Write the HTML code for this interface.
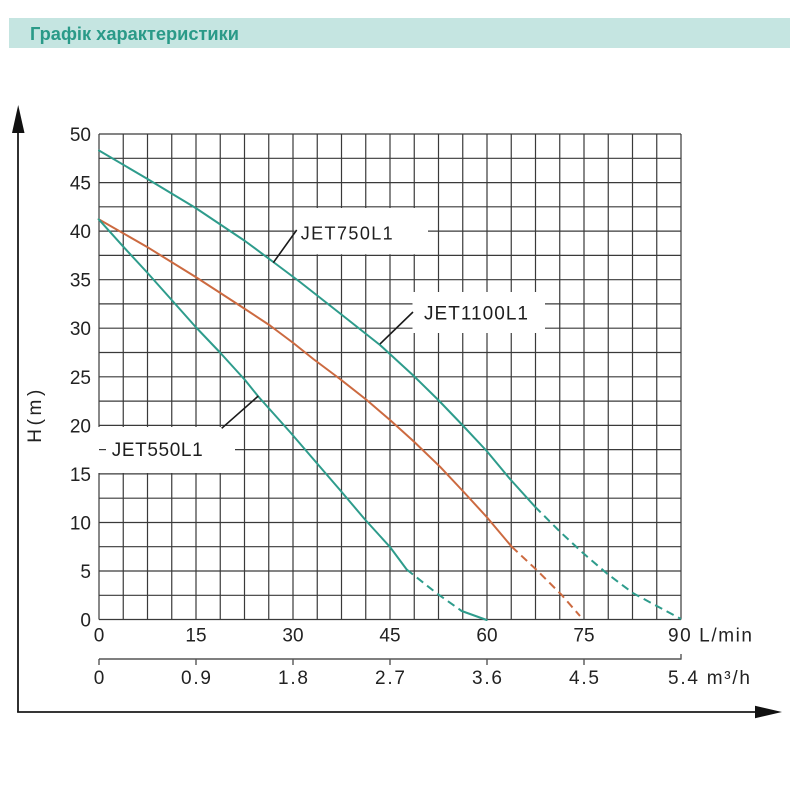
<!DOCTYPE html>
<html>
<head>
<meta charset="utf-8">
<style>
html,body{margin:0;padding:0;background:#fff;}
svg{display:block;}
text{font-family:"Liberation Sans",Arial,sans-serif;}
</style>
</head>
<body>
<svg width="800" height="800" viewBox="0 0 800 800" xmlns="http://www.w3.org/2000/svg">
<rect x="0" y="0" width="800" height="800" fill="#fff"/>
<rect x="9" y="18" width="781" height="30" fill="#c5e5e1"/>
<text x="30" y="40" font-size="18" font-weight="bold" fill="#2a9a88" textLength="209" lengthAdjust="spacingAndGlyphs">Графік характеристики</text>

<g stroke="#3a3a3a" stroke-width="1.2" fill="none">
<line x1="99" y1="134" x2="681" y2="134"/>
<line x1="99" y1="158.3" x2="681" y2="158.3"/>
<line x1="99" y1="182.6" x2="681" y2="182.6"/>
<line x1="99" y1="206.8" x2="681" y2="206.8"/>
<line x1="99" y1="231.1" x2="681" y2="231.1"/>
<line x1="99" y1="255.4" x2="681" y2="255.4"/>
<line x1="99" y1="279.7" x2="681" y2="279.7"/>
<line x1="99" y1="303.9" x2="681" y2="303.9"/>
<line x1="99" y1="328.2" x2="681" y2="328.2"/>
<line x1="99" y1="352.5" x2="681" y2="352.5"/>
<line x1="99" y1="376.8" x2="681" y2="376.8"/>
<line x1="99" y1="401.1" x2="681" y2="401.1"/>
<line x1="99" y1="425.4" x2="681" y2="425.4"/>
<line x1="99" y1="449.6" x2="681" y2="449.6"/>
<line x1="99" y1="473.9" x2="681" y2="473.9"/>
<line x1="99" y1="498.2" x2="681" y2="498.2"/>
<line x1="99" y1="522.5" x2="681" y2="522.5"/>
<line x1="99" y1="546.7" x2="681" y2="546.7"/>
<line x1="99" y1="571" x2="681" y2="571"/>
<line x1="99" y1="595.3" x2="681" y2="595.3"/>
<line x1="99" y1="619.5" x2="681" y2="619.5"/>
<line x1="99" y1="134" x2="99" y2="619.5"/>
<line x1="123.25" y1="134" x2="123.25" y2="619.5"/>
<line x1="147.5" y1="134" x2="147.5" y2="619.5"/>
<line x1="171.75" y1="134" x2="171.75" y2="619.5"/>
<line x1="196" y1="134" x2="196" y2="619.5"/>
<line x1="220.25" y1="134" x2="220.25" y2="619.5"/>
<line x1="244.5" y1="134" x2="244.5" y2="619.5"/>
<line x1="268.75" y1="134" x2="268.75" y2="619.5"/>
<line x1="293" y1="134" x2="293" y2="619.5"/>
<line x1="317.25" y1="134" x2="317.25" y2="619.5"/>
<line x1="341.5" y1="134" x2="341.5" y2="619.5"/>
<line x1="365.75" y1="134" x2="365.75" y2="619.5"/>
<line x1="390" y1="134" x2="390" y2="619.5"/>
<line x1="414.25" y1="134" x2="414.25" y2="619.5"/>
<line x1="438.5" y1="134" x2="438.5" y2="619.5"/>
<line x1="462.75" y1="134" x2="462.75" y2="619.5"/>
<line x1="487" y1="134" x2="487" y2="619.5"/>
<line x1="511.25" y1="134" x2="511.25" y2="619.5"/>
<line x1="535.5" y1="134" x2="535.5" y2="619.5"/>
<line x1="559.75" y1="134" x2="559.75" y2="619.5"/>
<line x1="584" y1="134" x2="584" y2="619.5"/>
<line x1="608.25" y1="134" x2="608.25" y2="619.5"/>
<line x1="632.5" y1="134" x2="632.5" y2="619.5"/>
<line x1="656.75" y1="134" x2="656.75" y2="619.5"/>
<line x1="681" y1="134" x2="681" y2="619.5"/>
</g>

<rect x="294.5" y="208" width="133.5" height="46.3" fill="#fff"/>
<rect x="412.5" y="292" width="132.5" height="41" fill="#fff"/>
<rect x="98" y="427" width="137" height="46" fill="#fff"/>
<line x1="99" y1="449.6" x2="106" y2="449.6" stroke="#3a3a3a" stroke-width="1.2"/>

<g fill="none" stroke-width="2" stroke-linejoin="round" stroke-linecap="round">
<polyline stroke="#2e9c8c" points="99,150.5 146.7,178.5 195.7,208 245,241 273.3,262 300,282 343.3,316 380,345 413.3,375.5 438.3,400 463.3,426 486.7,451 510,479 535,506.7"/>
<polyline stroke="#2e9c8c" stroke-dasharray="8 5" stroke-linecap="butt" points="535,506.7 560,531.7 583.3,553.3 606.7,573.3 633.3,593.3 681,619"/>
<polyline stroke="#cc6a40" points="98.7,219.3 146.7,246.7 195.7,277 245,309 270,325.5 293.3,343 313.3,359 340,379 366.7,400 390,420 413.3,441 440,466.7 463.3,491.5 486.7,517 511.7,546.7"/>
<polyline stroke="#cc6a40" stroke-dasharray="8 5" stroke-linecap="butt" points="511.7,546.7 536.7,570 561.7,595 580,616"/>
<polyline stroke="#2e9c8c" points="98.7,219.3 123.3,246.7 146.7,272 171.7,300 195.7,327 220,352.5 245,380 258.3,396.5 290,432 316.7,463 340,490 365,519.5 390,547 406.7,569.5"/>
<polyline stroke="#2e9c8c" stroke-dasharray="8 5" stroke-linecap="butt" points="406.7,569.5 436.7,593.3 461.7,611"/>
<polyline stroke="#2e9c8c" points="461.7,611 486.7,620"/>
</g>

<g stroke="#1a1a1a" stroke-width="1.6">
<line x1="296.7" y1="230" x2="273.3" y2="262.7"/>
<line x1="413" y1="312" x2="380" y2="344"/>
<line x1="221.7" y1="428.3" x2="258.3" y2="396"/>
</g>

<g fill="#1e1e1e">
<text x="300.7" y="239.5" font-size="18" textLength="92" lengthAdjust="spacing">JET750L1</text>
<text x="424" y="319.5" font-size="19" textLength="104" lengthAdjust="spacing">JET1100L1</text>
<text x="111.7" y="456" font-size="19" textLength="91" lengthAdjust="spacing">JET550L1</text>
</g>

<g font-size="19" fill="#222" text-anchor="end">
<text x="91" y="141">50</text>
<text x="91" y="189.6">45</text>
<text x="91" y="238.1">40</text>
<text x="91" y="286.7">35</text>
<text x="91" y="335.2">30</text>
<text x="91" y="383.8">25</text>
<text x="91" y="432.4">20</text>
<text x="91" y="480.9">15</text>
<text x="91" y="529.5">10</text>
<text x="91" y="578">5</text>
<text x="91" y="626.5">0</text>
</g>

<g font-size="19" fill="#222" text-anchor="middle">
<text x="99" y="641.5">0</text>
<text x="196" y="641.5">15</text>
<text x="293" y="641.5">30</text>
<text x="390" y="641.5">45</text>
<text x="487" y="641.5">60</text>
<text x="584" y="641.5">75</text>
</g>
<text x="668" y="641.5" font-size="19" fill="#222" textLength="84" lengthAdjust="spacing">90 L/min</text>

<g stroke="#555" stroke-width="1.4">
<line x1="99" y1="659" x2="681" y2="659"/>
<line x1="99" y1="659" x2="99" y2="665"/>
<line x1="196" y1="659" x2="196" y2="665"/>
<line x1="293" y1="659" x2="293" y2="665"/>
<line x1="390" y1="659" x2="390" y2="665"/>
<line x1="487" y1="659" x2="487" y2="665"/>
<line x1="584" y1="659" x2="584" y2="665"/>
<line x1="681" y1="654" x2="681" y2="659.7"/>
</g>
<g font-size="19" fill="#222" text-anchor="middle">
<text x="99" y="684">0</text>
<text x="196" y="684" textLength="30" lengthAdjust="spacing">0.9</text>
<text x="293" y="684" textLength="30" lengthAdjust="spacing">1.8</text>
<text x="390" y="684" textLength="30" lengthAdjust="spacing">2.7</text>
<text x="487" y="684" textLength="30" lengthAdjust="spacing">3.6</text>
<text x="584" y="684" textLength="30" lengthAdjust="spacing">4.5</text>
</g>
<text x="668" y="684" font-size="19" fill="#222" textLength="82" lengthAdjust="spacing">5.4 m³/h</text>

<g stroke="#1a1a1a" stroke-width="1.8">
<line x1="18" y1="712" x2="18" y2="128"/>
<line x1="17.1" y1="712" x2="758" y2="712"/>
</g>
<polygon points="12,133 18.2,105 24.5,133" fill="#111"/>
<polygon points="755,705.7 782,712 755,718.3" fill="#111"/>

<text transform="translate(41,442.7) rotate(-90)" font-size="19" fill="#222" textLength="53" lengthAdjust="spacing">H(m)</text>
</svg>
</body>
</html>
